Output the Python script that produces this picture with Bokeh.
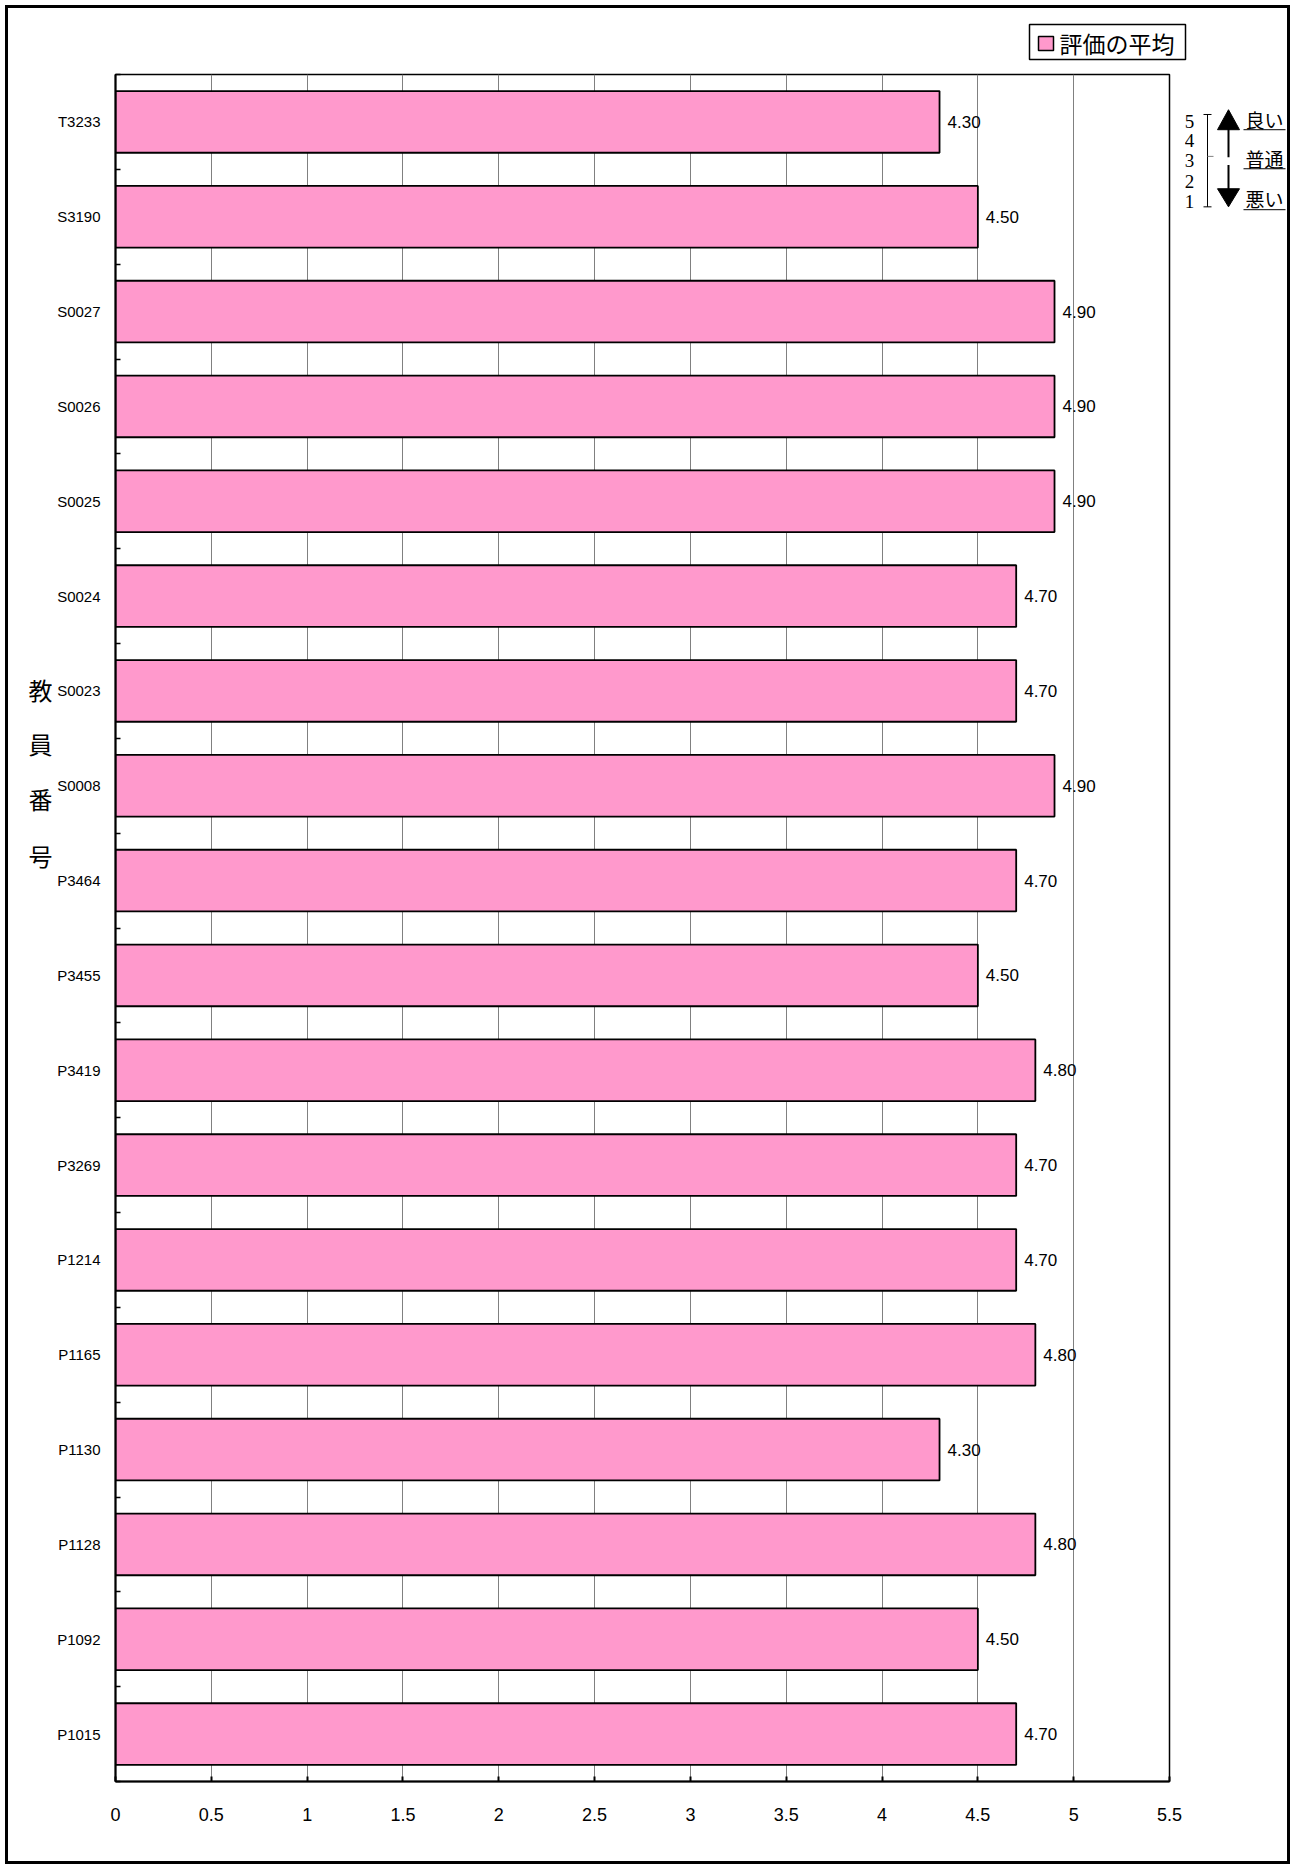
from bokeh.plotting import figure
from bokeh.layouts import column, row
from bokeh.models import (ColumnDataSource, FixedTicker, NumeralTickFormatter, Range1d)
from bokeh.core.properties import value
from bokeh.embed import file_html
from bokeh.resources import INLINE

# ---------------- data ----------------
teachers = ["T3233", "S3190", "S0027", "S0026", "S0025", "S0024", "S0023", "S0008",
            "P3464", "P3455", "P3419", "P3269", "P1214", "P1165", "P1130", "P1128",
            "P1092", "P1015"]
averages = [4.30, 4.50, 4.90, 4.90, 4.90, 4.70, 4.70, 4.90,
            4.70, 4.50, 4.80, 4.70, 4.70, 4.80, 4.30, 4.80,
            4.50, 4.70]
x_ticks = [0, 0.5, 1, 1.5, 2, 2.5, 3, 3.5, 4, 4.5, 5, 5.5]
legend_label = "評価の平均"
axis_title = "教員番号"
scale_numbers = ["5", "4", "3", "2", "1"]
scale_words = ["良い", "普通", "悪い"]

# ---------------- layout (pixels) ----------------
W, H = 1279, 1853          # content size inside the outer border
TOP_H = 60                 # strip holding the legend
LEFT_W = 44                # strip holding the stacked axis title
RIGHT_X = 1176             # where the right strip (rating scale) starts
ROW_H = H - TOP_H
MAIN_W = RIGHT_X - LEFT_W
RIGHT_W = W - RIGHT_X

PINK = "#FF99CC"


def aux_fig(w, h):
    f = figure(width=w, height=h, x_range=Range1d(0, w), y_range=Range1d(h, 0),
               x_axis_location=None, y_axis_location=None,
               output_backend="svg", toolbar_location=None, title=None,
               min_border=0, min_border_left=0, min_border_right=0,
               min_border_top=0, min_border_bottom=0,
               background_fill_color="white", border_fill_color="white")
    f.grid.visible = False
    f.outline_line_color = None
    return f


# ---------------- main chart ----------------
n = len(teachers)
ypos = [n - 1 - i for i in range(n)]
labels = [f"{v:.2f}" for v in averages]
src = ColumnDataSource(dict(y=ypos, v=averages, name=teachers, lab=labels))

p = figure(width=MAIN_W, height=ROW_H, output_backend="svg", toolbar_location=None,
           title=None, x_range=Range1d(0, 5.5), y_range=Range1d(-0.5, n - 0.5),
           min_border_left=107 - LEFT_W, min_border_top=66 - TOP_H,
           min_border_right=RIGHT_X - 1161, min_border_bottom=H - 1773,
           background_fill_color="white", border_fill_color="white")

bars = p.hbar(y="y", left=0, right="v", height=0.65, fill_color=PINK,
              line_color="black", line_width=1.8, source=src)
p.text(x="v", y="y", text="lab", x_offset=8, text_baseline="middle",
       text_align="left", text_font=value("Liberation Sans"),
       text_font_size="17px", text_color="black", source=src)

xa = p.xaxis[0]
xa.ticker = FixedTicker(ticks=x_ticks)
xa.formatter = NumeralTickFormatter(format="0.[0]")
xa.major_tick_in = 5
xa.major_tick_out = 0
xa.minor_tick_in = 0
xa.minor_tick_out = 0
xa.axis_line_width = 2
xa.major_tick_line_width = 2
xa.major_label_text_font = "Liberation Sans"
xa.major_label_text_font_size = "18px"
xa.major_label_text_color = "black"
xa.major_label_standoff = 26

ya = p.yaxis[0]
ya.ticker = FixedTicker(ticks=ypos, minor_ticks=[k - 0.5 for k in range(n + 1)])
ya.major_label_overrides = {y: t for y, t in zip(ypos, teachers)}
ya.major_tick_in = 0
ya.major_tick_out = 0
ya.minor_tick_in = 5
ya.minor_tick_out = 0
ya.minor_tick_line_width = 1.5
ya.minor_tick_line_color = "black"
ya.axis_line_width = 2
ya.major_label_text_font = "Liberation Sans"
ya.major_label_text_font_size = "15px"
ya.major_label_text_color = "black"
ya.major_label_standoff = 15

p.xgrid.grid_line_color = "#808080"
p.xgrid.grid_line_width = 1
p.ygrid.visible = False
p.outline_line_color = "black"
p.outline_line_width = 1.5

# ---------------- top strip: legend ----------------
top = aux_fig(W, TOP_H)
top.quad(left=[1021], right=[1177], top=[16], bottom=[51], fill_color="white",
         line_color="black", line_width=1.5)
top.quad(left=[1030], right=[1045], top=[28], bottom=[42], fill_color=PINK,
         line_color="black", line_width=1.5)
top.text(x=[1051], y=[34], text=[legend_label], text_align="left",
         text_baseline="middle", text_font=value("Noto Sans CJK JP"),
         text_font_size="23px", text_color="black")

# ---------------- left strip: stacked axis title ----------------
left = aux_fig(LEFT_W, ROW_H)
left.text(x=[32] * len(axis_title), y=[646, 703, 760, 820], text=list(axis_title),
          text_align="center", text_baseline="middle",
          text_font=value("Noto Sans CJK JP"), text_font_size="24px",
          text_color="black")

# ---------------- right strip: rating scale ----------------
right = aux_fig(RIGHT_W, ROW_H)
right.text(x=[5] * len(scale_numbers), y=[49, 69, 90, 112, 133], text=scale_numbers,
           text_align="center", text_baseline="middle",
           text_font=value("Liberation Serif"), text_font_size="19px",
           text_color="black")
right.segment(x0=[23, 19, 19], y0=[42, 42, 139], x1=[23, 27, 27], y1=[139, 42, 139],
              line_color="black", line_width=1)
right.segment(x0=[23], y0=[86], x1=[29], y1=[86], line_color="#808080", line_width=1)
right.segment(x0=[44, 44], y0=[57, 95], x1=[44, 44], y1=[87, 121],
              line_color="black", line_width=2)
right.patches(xs=[[33, 55, 44], [33, 55, 44]], ys=[[58, 58, 37], [120, 120, 139]],
              fill_color="black", line_color="black")
right.text(x=[61] * len(scale_words), y=[47, 88, 130], text=scale_words,
           text_align="left", text_baseline="middle",
           text_font=value("Noto Sans CJK JP"), text_font_size="19px",
           text_color="black")
right.segment(x0=[59, 59, 59], y0=[58, 99, 142], x1=[101, 101, 101], y1=[58, 99, 142],
              line_color="black", line_width=1)

layout = column(top, row(left, p, right, spacing=0), spacing=0)
layout.styles = {"border": "3px solid black", "margin-left": "5px", "margin-top": "5px",
                 "background-color": "white"}

open("out.html", "w").write(file_html(layout, INLINE))
